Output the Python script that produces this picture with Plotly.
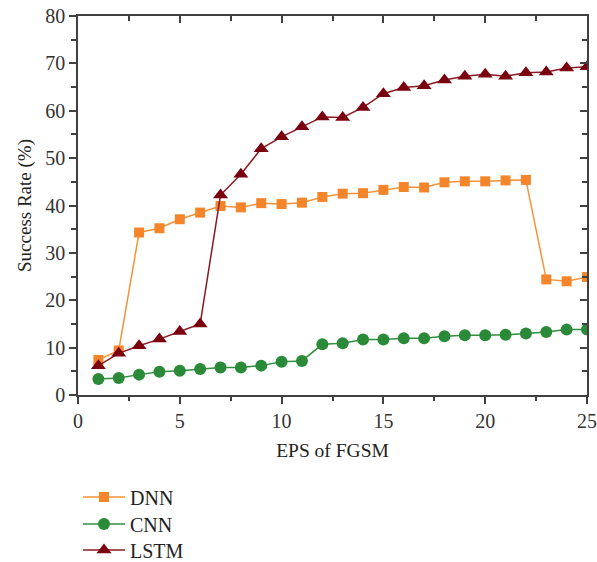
import plotly.graph_objects as go

eps = list(range(1, 26))
dnn = [7.4, 9.4, 34.3, 35.2, 37.1, 38.5, 39.9, 39.6, 40.5, 40.3, 40.6, 41.8, 42.5, 42.6, 43.3,
       43.9, 43.8, 44.9, 45.1, 45.1, 45.3, 45.4, 24.4, 24.0, 24.9]
cnn = [3.4, 3.6, 4.3, 4.9, 5.1, 5.5, 5.8, 5.8, 6.2, 7.0, 7.2, 10.7, 10.9, 11.7, 11.7,
       12.0, 12.0, 12.4, 12.6, 12.6, 12.7, 13.0, 13.3, 13.8, 13.8]
lstm = [6.2, 8.8, 10.4, 11.8, 13.4, 15.0, 42.2, 46.6, 52.0, 54.5, 56.6, 58.7, 58.6, 60.7, 63.6,
        64.9, 65.3, 66.5, 67.3, 67.7, 67.3, 68.0, 68.2, 69.0, 69.3]

FONT = "Liberation Serif"
AX = "#404040"

fig = go.Figure()
fig.add_trace(go.Scatter(x=eps, y=dnn, name="DNN", mode="lines+markers", legend="legend",
                         line=dict(color="#F7923A", width=1.5),
                         marker=dict(symbol="square", size=10, color="#F5852A")))
fig.add_trace(go.Scatter(x=eps, y=cnn, name="CNN", mode="lines+markers", legend="legend2",
                         line=dict(color="#2F8F3F", width=1.5),
                         marker=dict(symbol="circle", size=12, color="#2A8A38")))
fig.add_trace(go.Scatter(x=eps, y=lstm, name="LSTM", mode="lines+markers", legend="legend3",
                         line=dict(color="#8A1A22", width=1.5),
                         marker=dict(symbol="triangle-up", size=13, color="#7A0010")))
# invisible trace to host the inward ticks of top/right axes
fig.add_trace(go.Scatter(x=eps, y=dnn, xaxis="x2", yaxis="y2", mode="markers",
                         opacity=0, showlegend=False, hoverinfo="skip"))

tickfont = dict(family=FONT, size=20, color="#333333")


def leg(ypx):
    return dict(x=0, y=1 - ypx / 562, xref="paper", yref="container",
                xanchor="left", yanchor="middle", orientation="v", itemwidth=42,
                font=dict(family=FONT, size=20, color="#222222"),
                bgcolor="rgba(0,0,0,0)")


fig.update_layout(
    width=597, height=562,
    margin=dict(l=77.5, r=9.5, t=16, b=167),
    paper_bgcolor="white", plot_bgcolor="white",
    font=dict(family=FONT, size=17, color="#333333"),
    xaxis=dict(range=[0, 25], dtick=5, tick0=0, ticks="outside", ticklen=7, tickwidth=1.5,
               tickcolor=AX, showline=True, linecolor=AX, linewidth=1.5, mirror=True,
               showgrid=False, zeroline=False, tickfont=tickfont, automargin=False,
               minor=dict(dtick=2.5, ticks="outside", ticklen=4, tickwidth=1.5, tickcolor=AX),
               title=dict(text="EPS of FGSM", font=dict(family=FONT, size=19.5, color="#222222"),
                          standoff=13)),
    yaxis=dict(range=[0, 80], dtick=10, tick0=0, ticks="outside", ticklen=7, tickwidth=1.5,
               tickcolor=AX, showline=True, linecolor=AX, linewidth=1.5, mirror=True,
               showgrid=False, zeroline=False, tickfont=tickfont, automargin=False,
               minor=dict(dtick=5, ticks="outside", ticklen=5, tickwidth=1.5, tickcolor=AX),
               title=dict(text="Success Rate (%)", font=dict(family=FONT, size=19, color="#222222"),
                          standoff=9)),
    xaxis2=dict(range=[0, 25], dtick=5, tick0=0, overlaying="x", side="top", anchor="y",
                ticks="inside", ticklen=7, tickwidth=1.5, tickcolor=AX, showticklabels=False,
                showline=False, showgrid=False, zeroline=False, automargin=False,
                minor=dict(dtick=2.5, ticks="inside", ticklen=5, tickwidth=1.5, tickcolor=AX)),
    yaxis2=dict(range=[0, 80], dtick=10, tick0=0, overlaying="y", side="right", anchor="x",
                ticks="inside", ticklen=7, tickwidth=1.5, tickcolor=AX, showticklabels=False,
                showline=False, showgrid=False, zeroline=False, automargin=False,
                minor=dict(dtick=5, ticks="inside", ticklen=5, tickwidth=1.5, tickcolor=AX)),
    legend=leg(497),
    legend2=leg(524),
    legend3=leg(550),
    showlegend=True,
)

fig.write_html("out.html")
